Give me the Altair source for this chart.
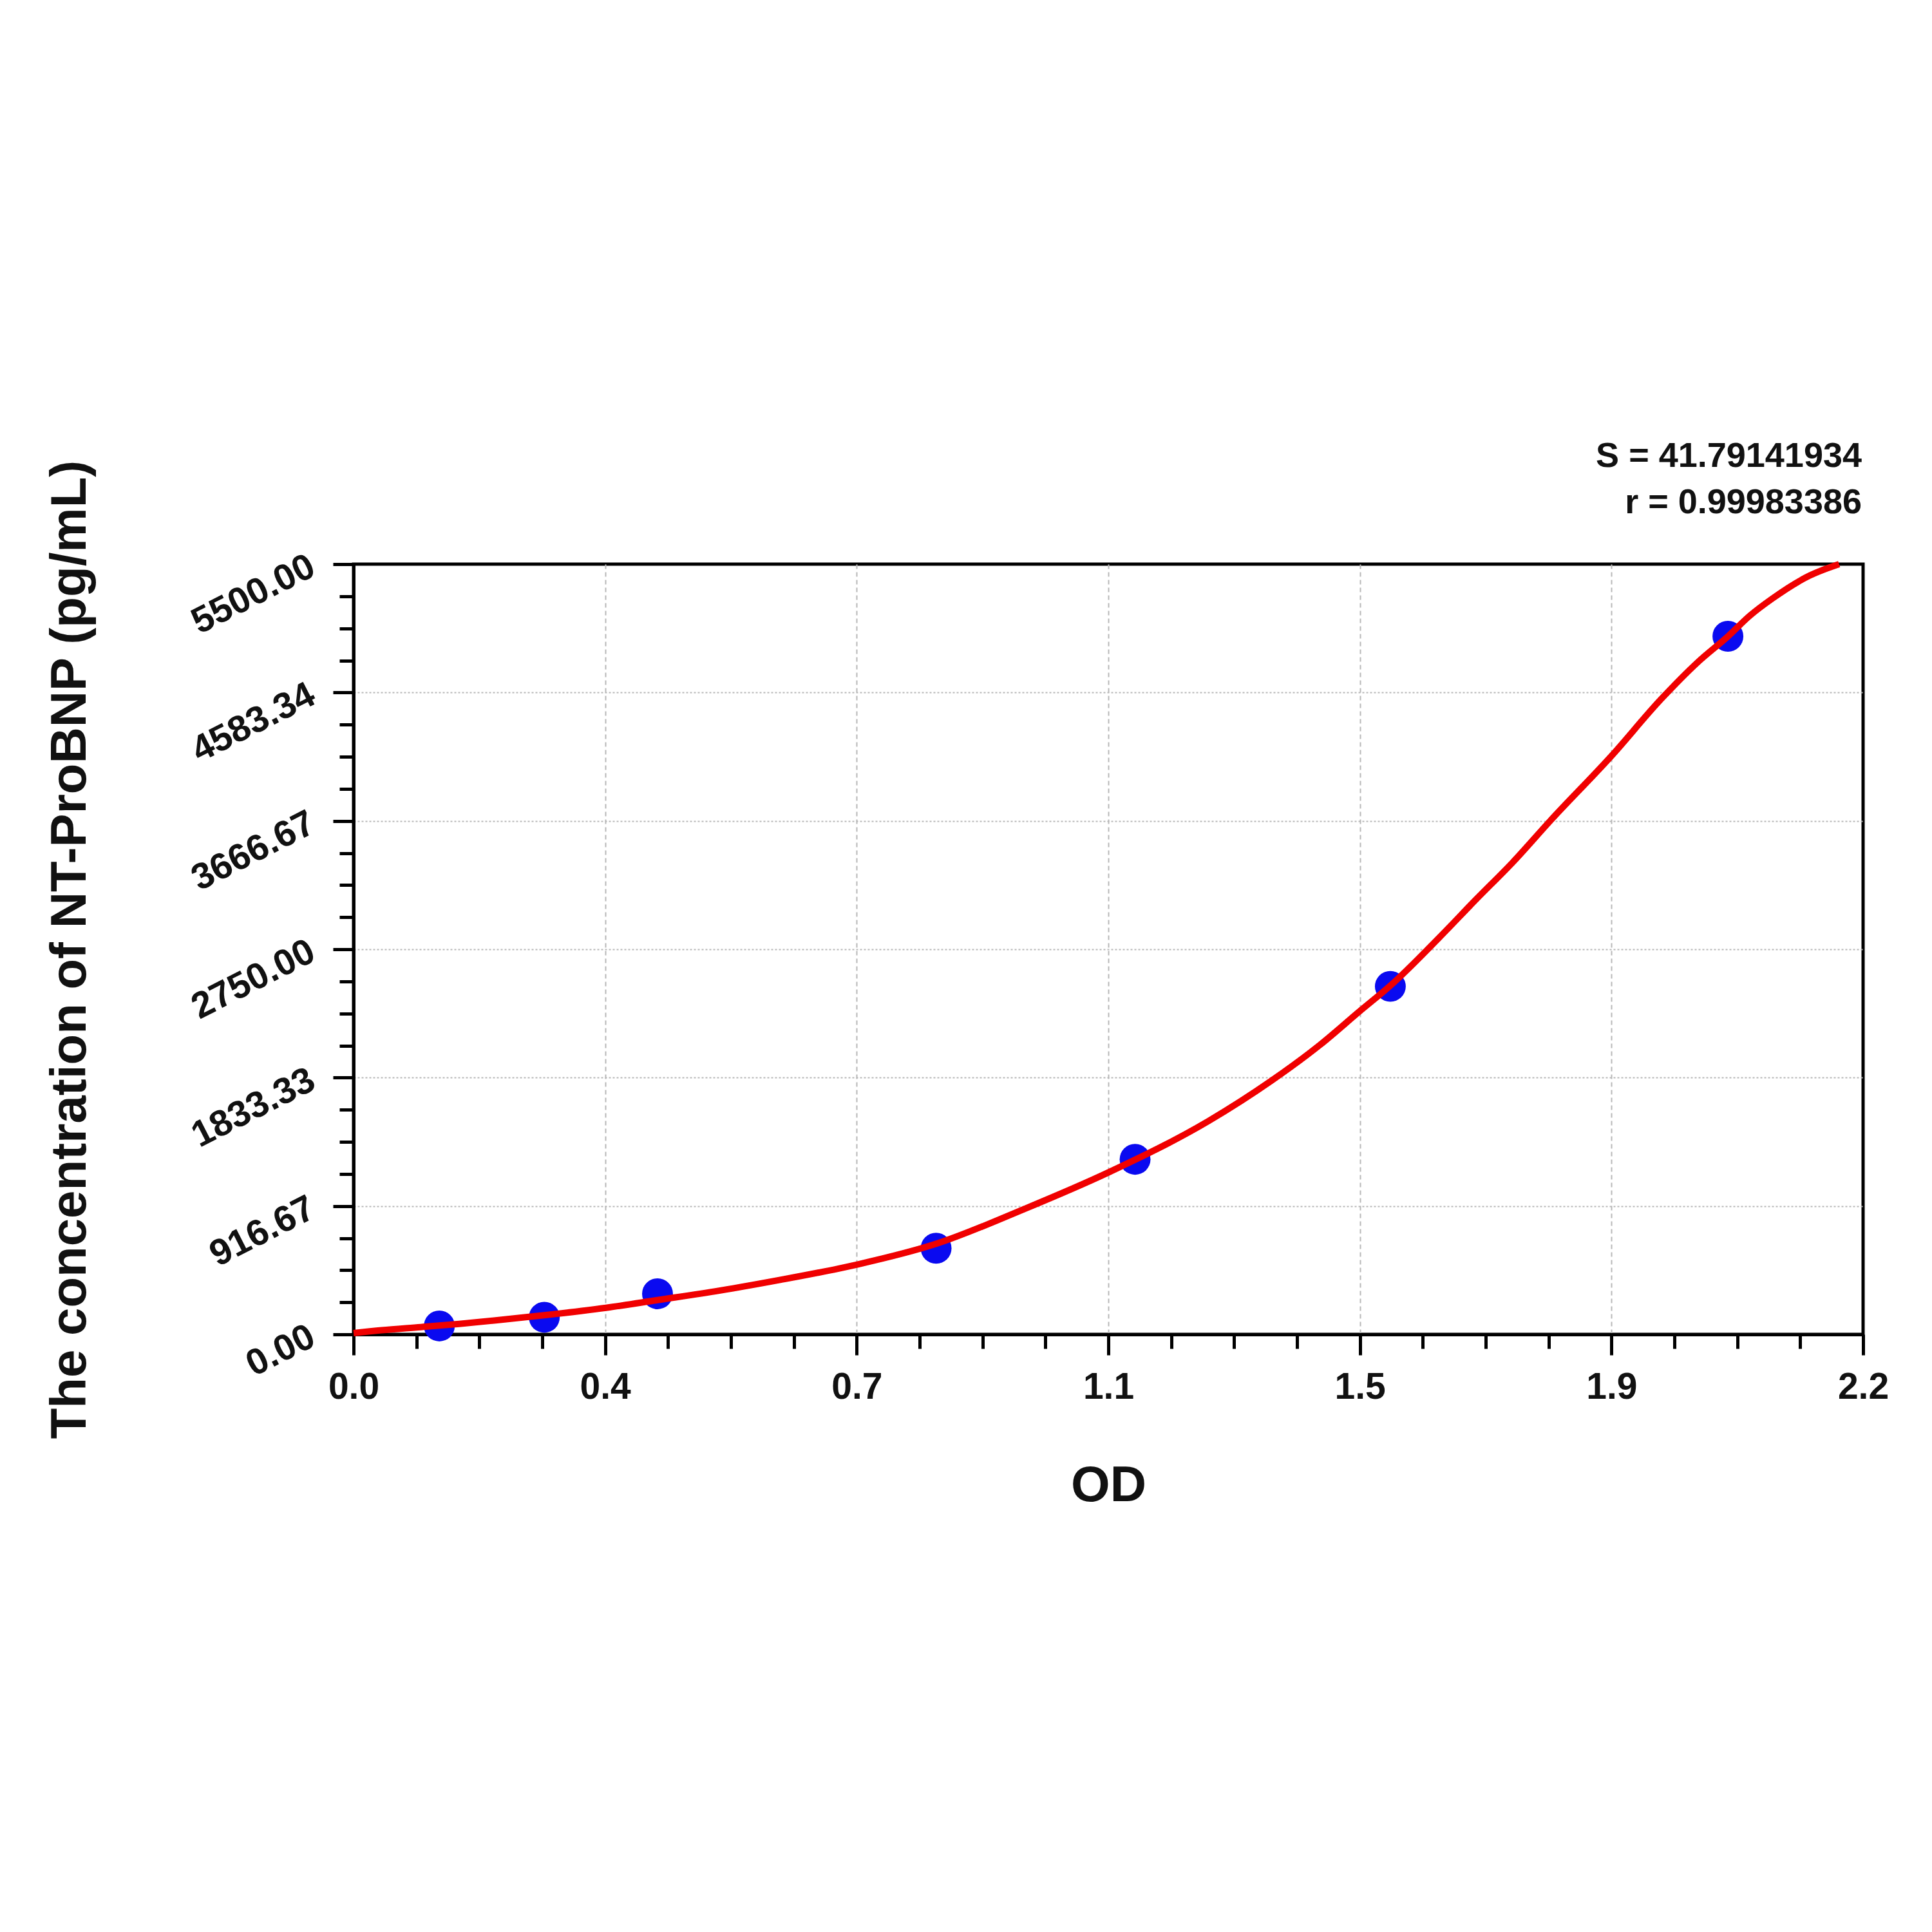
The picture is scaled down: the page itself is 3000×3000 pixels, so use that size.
import json
import altair as alt
import pandas as pd

# ---- data ----
od_points = [0.125, 0.278, 0.443, 0.849, 1.139, 1.511, 2.003]
conc_points = [60, 122, 290, 615, 1250, 2485, 4985]

curve_od = [0.0, 0.041, 0.098, 0.154, 0.207, 0.280, 0.368, 0.443, 0.533, 0.623,
            0.707, 0.735, 0.850, 0.977, 1.100, 1.246, 1.338, 1.408, 1.467, 1.511,
            1.582, 1.636, 1.690, 1.744, 1.833, 1.906, 1.960, 2.003, 2.035, 2.068,
            2.122, 2.165]
curve_conc = [9, 30, 52, 75, 100, 138, 190, 245, 312, 390,
              470, 500, 648, 894, 1156, 1523, 1812, 2065, 2310, 2490,
              2832, 3106, 3374, 3667, 4129, 4538, 4804, 4984, 5132, 5255,
              5418, 5500]

x_tick_labels = ["0.0", "0.4", "0.7", "1.1", "1.5", "1.9", "2.2"]
y_tick_labels = ["0.00", "916.67", "1833.33", "2750.00", "3666.67", "4583.34", "5500.00"]
stats_lines = ["S = 41.79141934", "r = 0.99983386"]

x_title = "OD"
y_title = "The concentration of NT-ProBNP (pg/mL)"

X_MAX = 2.2
Y_MAX = 5500

# ---- ticks ----
x_major = X_MAX / 6
y_major = Y_MAX / 6
x_ticks = [i * X_MAX / 24 for i in range(25)]
y_ticks = [i * Y_MAX / 24 for i in range(25)]


def is_minor(step):
    return f"abs(datum.value/{step} - round(datum.value/{step})) > 1e-6"


def no_grid(step, vmax):
    return f"({is_minor(step)}) || datum.value < 1e-6 || datum.value > {vmax} - 1e-6"


def label_expr(step, labels):
    return (f"abs(datum.value/{step} - round(datum.value/{step})) < 1e-6 ? "
            f"{json.dumps(labels)}[round(datum.value/{step})] : ''")


FONT = "Liberation Sans"

pts_df = pd.DataFrame({"od": od_points, "conc": conc_points})
curve_df = pd.DataFrame({"od": curve_od, "conc": curve_conc})

x_axis = alt.Axis(
    values=x_ticks,
    labelExpr=label_expr(x_major, x_tick_labels),
    tickSize={"condition": {"test": is_minor(x_major), "value": 22}, "value": 32},
    gridOpacity={"condition": {"test": no_grid(x_major, X_MAX), "value": 0}, "value": 1},
    gridDash=[7, 5],
    labelPadding=22,
    labelLimit=1000,
    title=x_title,
    titleX=1172,
    titleY=258,
    titleAlign="center",
    titleBaseline="alphabetic",
    titleAngle=0,
)

y_axis = alt.Axis(
    values=y_ticks,
    labelExpr=label_expr(y_major, y_tick_labels),
    tickSize={"condition": {"test": is_minor(y_major), "value": 22}, "value": 32},
    gridOpacity={"condition": {"test": no_grid(y_major, Y_MAX), "value": 0}, "value": 1},
    gridDash=[3, 3],
    labelAngle=333,
    labelAlign="right",
    labelBaseline="middle",
    labelPadding=32,
    labelLimit=1000,
    title=y_title,
    titleX=-417,
    titleY=598,
    titleAngle=270,
    titleAlign="center",
    titleBaseline="alphabetic",
)

x_enc = alt.X("od:Q", scale=alt.Scale(domain=[0, X_MAX], nice=False, zero=False), axis=x_axis)
y_enc = alt.Y("conc:Q", scale=alt.Scale(domain=[0, Y_MAX], nice=False, zero=False), axis=y_axis)

points = alt.Chart(pts_df).mark_point(
    filled=True, shape="circle", size=2300, color="#0a0af0", opacity=1
).encode(x=x_enc, y=y_enc)

curve = alt.Chart(curve_df).mark_line(
    color="#f00000", strokeWidth=10, interpolate="monotone"
).encode(x=alt.X("od:Q"), y=alt.Y("conc:Q"), order=alt.Order("od:Q"))

stat_layers = []
for txt, ypos in zip(stats_lines, [-151, -79]):
    stat_layers.append(
        alt.Chart(pd.DataFrame({"t": [txt]})).mark_text(
            align="right", baseline="alphabetic", font=FONT, fontWeight="bold",
            fontSize=54, color="#111111"
        ).encode(x=alt.value(2342), y=alt.value(ypos), text="t:N")
    )

chart = alt.layer(points, curve, *stat_layers).properties(
    width=2344,
    height=1196,
    autosize=alt.AutoSizeParams(type="none"),
    padding={"left": 541, "top": 868, "right": 99, "bottom": 920},
    background="white",
).configure_view(
    stroke="black", strokeWidth=5
).configure_axis(
    domainColor="black", domainWidth=5,
    tickColor="black", tickWidth=5,
    labelFont=FONT, labelFontWeight="bold", labelFontSize=57, labelColor="#111111",
    titleFont=FONT, titleFontWeight="bold", titleFontSize=78, titleColor="#111111",
    gridColor="#b8b8b8", gridWidth=2,
    labelOverlap=False, labelFlush=False, labelBound=False,
)

chart.save("out.html", embed_options={"renderer": "svg", "actions": False})
